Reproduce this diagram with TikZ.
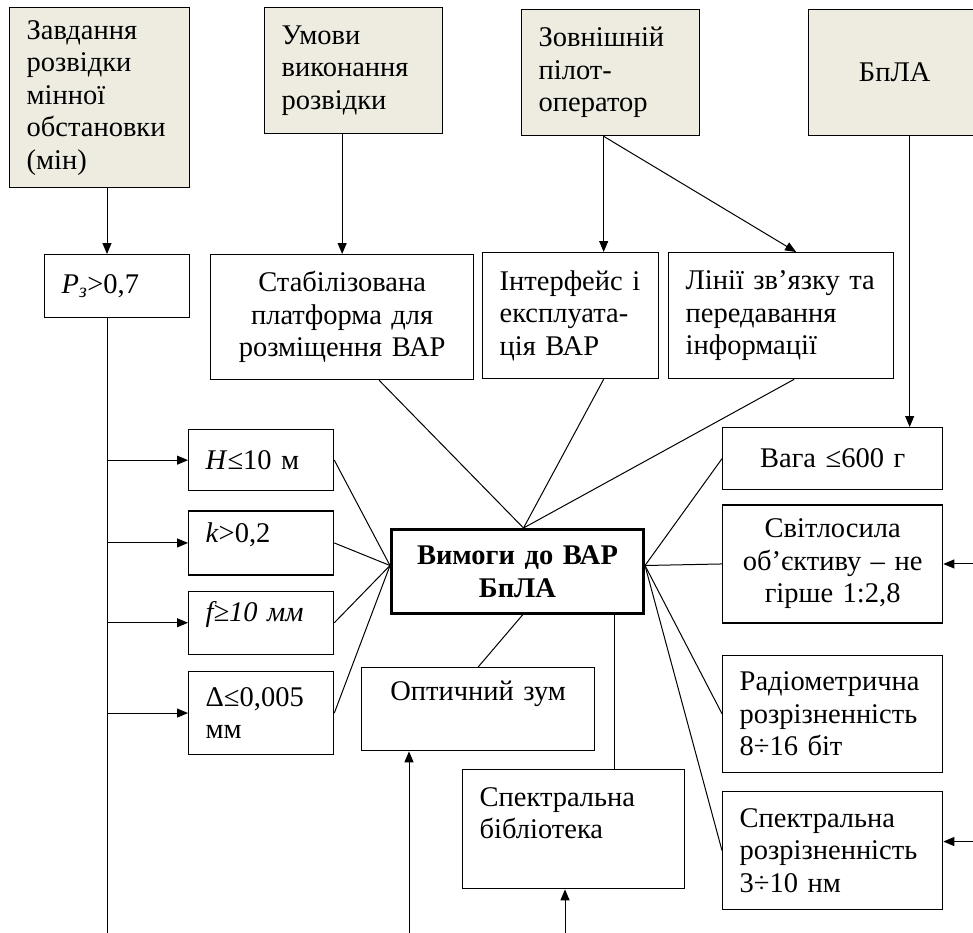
\documentclass[tikz,border=0pt]{standalone}
\usepackage{fontspec}
\setmainfont{Liberation Serif}
\usetikzlibrary{positioning,arrows.meta,calc}
\definecolor{srcfill}{HTML}{EEECE1}

\begin{document}
\begin{tikzpicture}[
    x=1pt, y=-1pt,
    box/.style={rectangle, draw, line width=1.3pt, anchor=north west, inner xsep=17pt, inner ysep=0pt, align=left, font=\fontsize{28.5}{32.5}\selectfont},
    src/.style={box, fill=srcfill},
    req/.style={box, align=center},
    arrow/.style={-{Triangle[length=11pt,width=9pt]}, line width=1pt},
    link/.style={line width=1pt}
]
\useasboundingbox (0,0) rectangle (973,932);
\clip (0,0) rectangle (973,932);

% Sources
\node[src, text width=146pt, minimum height=180pt] (zavd) at (9,7) {Завдання\\розвідки\\мінної\\обстановки\\(мін)};
\node[src, text width=144pt, minimum height=126pt] (umovy) at (264,7) {Умови\\виконання\\розвідки};
\node[src, text width=144pt, minimum height=126pt] (zovn) at (521,9) {Зовнішній\\пілот-\\оператор};
\node[src, align=center, text width=138pt, minimum height=126pt] (bpla) at (808,9) {БпЛА};

% Second row
\node[box, text width=111pt, minimum height=63pt] (pbox) at (44,254) {\textit{P}\textsubscript{\textit{з}}>0,7};
\node[req, text width=229pt, minimum height=125pt] (stab) at (210,254) {Стабілізована\\платформа~для\\розміщення~ВАР};
\node[box, text width=142pt, minimum height=126pt] (intf) at (482,252) {Інтерфейс~і\\експлуата-\\ція~ВАР};
\node[box, text width=191pt, minimum height=126pt] (lin) at (668,252) {Лінії~зв’язку~та\\передавання\\інформації};

% Left column
\node[box, text width=111pt, minimum height=61pt] (hbox) at (188,429) {\textit{H}≤10~м};
\node[box, text width=111pt, minimum height=64pt, text depth=21pt, below=19pt of hbox] (kbox) {\textit{k}>0,2};
\node[box, text width=111pt, minimum height=63pt, text depth=22pt, below=15pt of kbox] (fbox) {\textit{f≥10~мм}};
\node[box, text width=111pt, minimum height=83pt, below=16pt of fbox] (dbox) {Δ≤0,005\\мм};

% Hub
\node[req, line width=3pt, font=\bfseries\fontsize{28.5}{32.5}\selectfont, text width=218pt, minimum height=84pt] (vym) at (390,528) {Вимоги~до~ВАР\\БпЛА};

% Bottom middle
\node[req, text width=199pt, minimum height=83pt, text depth=36pt] (zoom) at (361,667) {Оптичний~зум};
\node[box, text width=188pt, minimum height=119pt] (bibl) at (462,769) {Спектральна\\бібліотека\\\mbox{}};

% Right column
\node[req, text width=186pt, minimum height=62pt] (vaga) at (722,427) {Вага~≤600~г};
\node[req, text width=186pt, minimum height=118pt, below=14pt of vaga] (svit) {Світлосила\\об’єктиву~–~не\\гірше~1:2,8};
\node[box, text width=186pt, minimum height=117pt, below=31pt of svit] (radio) {Радіометрична\\розрізненність\\8÷16~біт};
\node[box, text width=186pt, minimum height=118pt, below=18pt of radio] (spec) {Спектральна\\розрізненність\\3÷10~нм};

% Feeds from the top
\coordinate (trunk) at (107,935);
\draw[arrow] (zavd.south -| trunk) -- (pbox.north -| trunk);
\draw[link] (pbox.south -| trunk) -- (trunk);
\foreach \n in {hbox,kbox,fbox,dbox}
  \draw[arrow] (trunk |- \n.west) -- (\n.west);

\draw[arrow] (umovy.south -| stab.north) -- (stab.north);
\coordinate (zout) at ([xshift=-7pt]zovn.south);
\draw[arrow] (zout) -- (zout |- intf.north);
\draw[arrow] (zout) -- ([xshift=15pt]lin.north);
\coordinate (bout) at ([xshift=15pt]bpla.south);
\draw[arrow] (bout) -- (bout |- vaga.north);

% Inputs from outside the frame
\coordinate (redge) at (975,0);
\draw[arrow] (redge |- svit.east) -- (svit.east);
\coordinate (specin) at ([yshift=9pt]spec.east);
\draw[arrow] (redge |- specin) -- (specin);
\coordinate (zoomin) at (409,935);
\draw[arrow] (zoomin) -- (zoomin |- zoom.south);
\coordinate (biblin) at (565,935);
\draw[arrow] (biblin) -- (biblin |- bibl.south);

% Links to the hub
\coordinate (hubL) at ([yshift=6pt]vym.west);
\coordinate (hubR) at ([yshift=6pt]vym.east);
\coordinate (hubT) at ([xshift=6pt]vym.north);
\foreach \n in {hbox,kbox,fbox,dbox}
  \draw[link] (\n.east) -- (hubL);
\foreach \n/\s in {stab/37,intf/33,lin/13}
  \draw[link] ([xshift=\s pt]\n.south) -- (hubT);
\foreach \n in {vaga,svit,radio,spec}
  \draw[link] (hubR) -- (\n.west);
\draw[link] ([xshift=5pt]vym.south) -- (zoom.north);
\coordinate (vbot) at ([xshift=97pt]vym.south);
\draw[link] (vbot) -- (vbot |- bibl.north);

\end{tikzpicture}
\end{document}
